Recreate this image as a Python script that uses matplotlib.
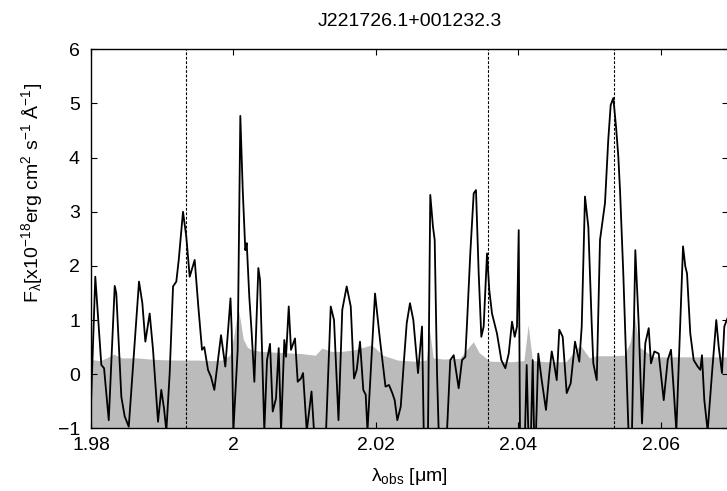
import matplotlib
matplotlib.use("Agg")
import matplotlib.pyplot as plt

plt.rcParams["font.family"] = ["Liberation Sans", "DejaVu Sans"]
plt.rcParams["mathtext.default"] = "regular"

# --- data --------------------------------------------------------------------
# observed wavelength (micron) and flux (1e-18 erg/cm2/s/A)
wave = [
    1.98000, 1.98060, 1.98145, 1.98183, 1.98249, 1.98333, 1.98355, 1.98426, 1.98473, 1.98530,
    1.98674, 1.98721, 1.98763, 1.98824, 1.98871, 1.98941, 1.98987, 1.99025, 1.99058, 1.99105,
    1.99152, 1.99198, 1.99232, 1.99292, 1.99338, 1.99386, 1.99456, 1.99507, 1.99559, 1.99591,
    1.99643, 1.99685, 1.99732, 1.99826, 1.99886, 1.99928, 1.99959, 1.99976, 1.99999, 2.00060,
    2.00097, 2.00131, 2.00167, 2.00187, 2.00223, 2.00257, 2.00294, 2.00350, 2.00374, 2.00434,
    2.00472, 2.00514, 2.00552, 2.00598, 2.00636, 2.00669, 2.00715, 2.00739, 2.00777, 2.00809,
    2.00865, 2.00903, 2.00949, 2.00978, 2.01030, 2.01097, 2.01132, 2.01301, 2.01367, 2.01413,
    2.01476, 2.01529, 2.01591, 2.01648, 2.01694, 2.01732, 2.01778, 2.01824, 2.01858, 2.01883,
    2.01928, 2.01989, 2.02059, 2.02136, 2.02185, 2.02232, 2.02265, 2.02302, 2.02350, 2.02396,
    2.02434, 2.02480, 2.02527, 2.02593, 2.02649, 2.02673, 2.02733, 2.02765, 2.02803, 2.02827,
    2.02860, 2.02883, 2.03000, 2.03046, 2.03094, 2.03164, 2.03211, 2.03257, 2.03281, 2.03327,
    2.03375, 2.03407, 2.03445, 2.03482, 2.03515, 2.03562, 2.03594, 2.03632, 2.03702, 2.03763,
    2.03819, 2.03867, 2.03913, 2.03951, 2.03983, 2.04007, 2.04025, 2.04096, 2.04119, 2.04142,
    2.04180, 2.04204, 2.04222, 2.04250, 2.04282, 2.04330, 2.04390, 2.04437, 2.04471, 2.04503,
    2.04541, 2.04577, 2.04625, 2.04681, 2.04737, 2.04798, 2.04858, 2.04892, 2.04938, 2.04985,
    2.05032, 2.05055, 2.05103, 2.05149, 2.05219, 2.05265, 2.05299, 2.05336, 2.05374, 2.05406,
    2.05430, 2.05476, 2.05514, 2.05549, 2.05598, 2.05645, 2.05692, 2.05739, 2.05785, 2.05833,
    2.05865, 2.05912, 2.05973, 2.06044, 2.06100, 2.06146, 2.06184, 2.06221, 2.06268, 2.06315,
    2.06347, 2.06371, 2.06417, 2.06465, 2.06521, 2.06558, 2.06581, 2.06614, 2.06661, 2.06722,
    2.06782, 2.06816, 2.06862, 2.06895, 2.06947,
]
flux = [
    -0.54, 1.80, 0.17, 0.11, -0.85, 1.63, 1.49, -0.42, -0.78, -0.97,
    1.71, 1.31, 0.60, 1.12, 0.45, -0.88, -0.29, -0.63, -1.05, 0.02,
    1.62, 1.71, 2.11, 3.00, 2.54, 1.80, 2.11, 1.25, 0.45, 0.50,
    0.08, -0.05, -0.29, 0.72, 0.14, 0.88, 1.40, 0.80, -1.05, 0.45,
    4.77, 3.40, 2.29, 2.42, 1.43, 0.75, -0.14, 1.96, 1.74, -1.05,
    0.26, 0.56, -0.69, -0.45, 0.48, -1.05, 0.63, 0.32, 1.25, 0.45,
    0.66, -0.14, -0.08, 0.02, -1.05, -0.32, -1.05, -1.05, 1.25, 1.00,
    -0.85, 1.19, 1.62, 1.25, -0.08, 0.08, 0.60, -0.29, -0.38, -1.05,
    0.02, 1.49, 0.63, -0.23, -0.20, -0.35, -0.48, -0.85, -0.60, 0.26,
    0.94, 1.31, 1.00, 0.02, 0.88, -1.05, -1.05, 3.31, 2.72, 2.48,
    0.02, -1.05, -1.05, 0.26, 0.35, -0.26, 0.26, 0.32, 0.94, 2.23,
    3.34, 3.40, 1.86, 0.69, 0.88, 2.23, 1.55, 1.12, 0.75, 0.26,
    0.11, 0.38, 0.97, 0.69, 0.88, 2.66, -1.05, -1.05, 0.17, -1.05,
    -1.05, 0.26, -1.05, -1.05, 0.38, -0.11, -0.66, 0.02, 0.42, 0.20,
    -0.11, 0.82, 0.69, -0.35, -0.17, 0.60, 0.23, 0.88, 3.28, 2.72,
    0.94, 0.20, -0.11, 2.48, 3.16, 4.33, 4.97, 5.10, 4.57, 4.02,
    3.40, 1.86, 0.32, -1.05, -1.05, 2.29, 0.94, -0.91, 0.57, 0.85,
    0.20, 0.42, 0.38, -0.48, 0.26, 0.45, -0.29, -1.05, 0.63, 2.36,
    1.99, 1.86, 0.75, 0.26, 0.14, 0.08, 0.35, -0.48, -1.05, 0.02,
    1.00, 0.51, 0.02, 0.88, 1.06,
]

# noise spectrum (grey band top edge)
err_wave = [
    1.98000, 1.98126, 1.98220, 1.98318, 1.98431, 1.98642, 1.98923, 1.99204, 1.99485, 1.99696,
    1.99837, 1.99949, 2.00005, 2.00033, 2.00068, 2.00103, 2.00138, 2.00194, 2.00250, 2.00390,
    2.00671, 2.00952, 2.01150, 2.01243, 2.01380, 2.01517, 2.01700, 2.01942, 2.02100, 2.02307,
    2.02540, 2.02710, 2.02756, 2.02806, 2.02950, 2.03180, 2.03275, 2.03369, 2.03450, 2.03600,
    2.03900, 2.04080, 2.04140, 2.04200, 2.04400, 2.04670, 2.04780, 2.04868, 2.05000, 2.05090,
    2.05300, 2.05490, 2.05575, 2.05630, 2.05700, 2.05900, 2.06300, 2.06947,
]
err_top = [
    0.27, 0.25, 0.30, 0.37, 0.30, 0.30, 0.27, 0.26, 0.26, 0.25,
    0.26, 0.35, 0.70, 0.95, 1.20, 0.95, 0.65, 0.50, 0.45, 0.42,
    0.40, 0.38, 0.35, 0.48, 0.42, 0.42, 0.45, 0.54, 0.35, 0.26,
    0.24, 0.26, 0.80, 0.30, 0.28, 0.29, 0.45, 0.60, 0.40, 0.24,
    0.23, 0.25, 0.91, 0.25, 0.23, 0.23, 0.40, 0.54, 0.30, 0.34,
    0.34, 0.35, 0.60, 1.12, 0.50, 0.32, 0.32, 0.32,
]

line_waves = [1.9933, 2.0357, 2.0534]   # marked line positions
x_ticks = [1.98, 2.00, 2.02, 2.04, 2.06]
x_ticklabels = ["1.98", "2", "2.02", "2.04", "2.06"]
y_ticks = [-1, 0, 1, 2, 3, 4, 5, 6]

fig = plt.figure(figsize=(7.27, 4.91), dpi=100)
ax = fig.add_axes([0.1252, 0.1277, 0.8765, 0.7719])

ax.fill_between(err_wave, -2, err_top, color="#bbbbbb", lw=0, zorder=1)
for lw_ in line_waves:
    ax.axvline(lw_, color="black", lw=0.8, ls=(0, (2.5, 1.5)), zorder=2)
ax.plot(wave, flux, color="black", lw=1.3, zorder=3,
        solid_joinstyle="round", solid_capstyle="round")

ax.set_xlim(1.98, 2.0695)
ax.set_ylim(-1, 6)
ax.set_xticks(x_ticks)
ax.set_xticklabels(x_ticklabels)
ax.set_yticks(y_ticks)
ax.tick_params(direction="in", top=True, right=True, length=4, width=0.8,
               labelsize=14, colors="black")
ax.tick_params(axis="y", pad=8)
ax.tick_params(axis="x", pad=6)
for s in ax.spines.values():
    s.set_linewidth(1.0)

ax.set_title("J221726.1+001232.3", fontsize=14, pad=17)
ax.set_xlabel(r"$\lambda_{obs}$ [$\mu$m]", fontsize=14, labelpad=9)
ax.set_ylabel(r"F$_{\lambda}$[x10$^{-18}$erg cm$^{2}$ s$^{-1}$ Å$^{-1}$]", fontsize=14)
ax.yaxis.set_label_coords(-0.072, 0.62)

fig.savefig("out.png", dpi=100)
